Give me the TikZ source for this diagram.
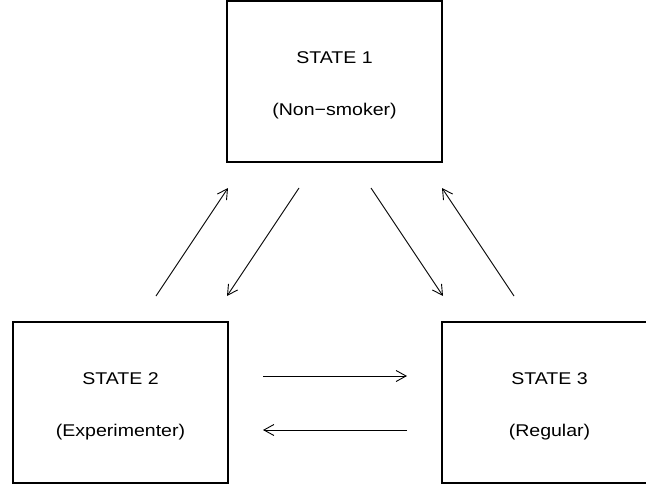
\documentclass[tikz,border=0pt]{standalone}
\usepackage{fontspec}
\setmainfont{Liberation Sans}[FakeStretch=1.15]
\usetikzlibrary{arrows.meta}
\tikzset{
  statebox/.style={draw=black, line width=1.2pt, minimum width=215pt, minimum height=161pt,
    inner sep=0pt},
  boxtext/.style={align=center, inner sep=0pt, yshift=-4pt, font=\fontsize{17}{51.5}\selectfont},
  trans/.style={line width=0.9pt, -{Straight Barb[length=10pt,width=11pt,line width=0.9pt]}}
}
\begin{document}
\begin{tikzpicture}[x=1pt,y=-1pt]
\useasboundingbox (0,0) rectangle (646,487);
\clip (0,0) rectangle (646,487);
\node[statebox, label={[boxtext]center:STATE 1\\(Non−smoker)}] (s1) at (334.5,81.5) {};
\node[statebox, label={[boxtext]center:STATE 2\\(Experimenter)}] (s2) at (120.5,402.5) {};
\node[statebox, label={[boxtext]center:STATE 3\\(Regular)}] (s3) at (549.5,402.5) {};
% arrow end points
\coordinate (a21s) at (156,296);
\coordinate (a21e) at (228,188);
\coordinate (a12s) at (299,188);
\coordinate (a12e) at (227,296);
\coordinate (a13s) at (371,188);
\coordinate (a13e) at (443,296);
\coordinate (a31s) at (514,296);
\coordinate (a31e) at (442,188);
\coordinate (a23s) at (263,376);
\coordinate (a23e) at (407,376);
\coordinate (a32s) at (407,430);
\coordinate (a32e) at (263,430);
\draw[trans] (a21s) -- (a21e);
\draw[trans] (a12s) -- (a12e);
\draw[trans] (a13s) -- (a13e);
\draw[trans] (a31s) -- (a31e);
\draw[trans] (a23s) -- (a23e);
\draw[trans] (a32s) -- (a32e);
\end{tikzpicture}
\end{document}
